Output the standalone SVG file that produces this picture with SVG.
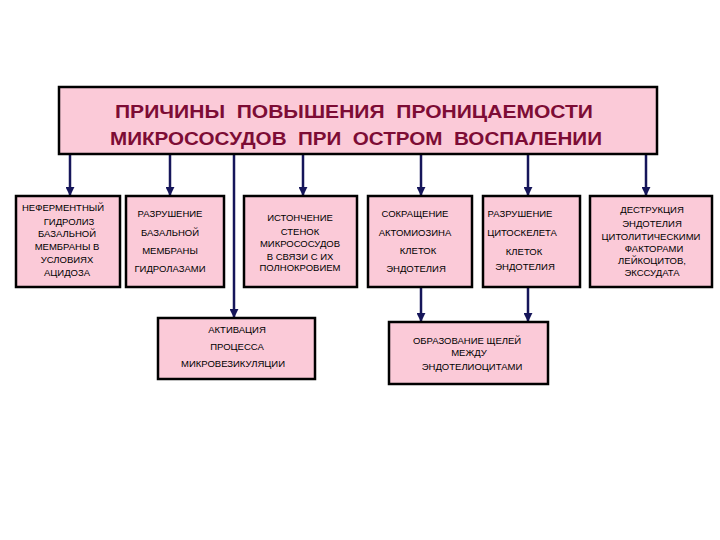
<svg xmlns="http://www.w3.org/2000/svg" width="720" height="540" viewBox="0 0 720 540">
<defs>
<style>
.box{fill:#fbcad8;stroke:#000;stroke-width:2.5}
.t{font-family:"Liberation Sans",Arial,sans-serif;font-size:9.5px;fill:#000;text-anchor:middle}
.title{font-family:"Liberation Sans",Arial,sans-serif;font-size:19px;font-weight:bold;fill:#7d0c35;text-anchor:middle;white-space:pre}
.c{stroke:#16165a;stroke-width:2.5;fill:none}
</style>
<marker id="ah" viewBox="0 0 10 10" refX="9" refY="5" markerWidth="3.6" markerHeight="3.6" orient="auto" markerUnits="strokeWidth">
<path d="M0,0 L10,5 L0,10 z" fill="#16165a"/>
</marker>
</defs>
<rect width="720" height="540" fill="#fff"/>
<g id="connectors">
<line class="c" x1="70" y1="155" x2="70" y2="195" marker-end="url(#ah)"/>
<line class="c" x1="170" y1="155" x2="170" y2="195" marker-end="url(#ah)"/>
<line class="c" x1="234" y1="155" x2="234" y2="317" marker-end="url(#ah)"/>
<line class="c" x1="303" y1="155" x2="303" y2="195" marker-end="url(#ah)"/>
<line class="c" x1="421" y1="155" x2="421" y2="195" marker-end="url(#ah)"/>
<line class="c" x1="528" y1="155" x2="528" y2="195" marker-end="url(#ah)"/>
<line class="c" x1="646" y1="155" x2="646" y2="195" marker-end="url(#ah)"/>
<line class="c" x1="421" y1="288" x2="421" y2="321" marker-end="url(#ah)"/>
<line class="c" x1="528" y1="288" x2="528" y2="321" marker-end="url(#ah)"/>
</g>
<g id="title">
<rect class="box" x="59" y="87" width="598" height="67" stroke-width="3"/>
<text class="title" x="354" y="118" textLength="478" lengthAdjust="spacingAndGlyphs">ПРИЧИНЫ  ПОВЫШЕНИЯ  ПРОНИЦАЕМОСТИ</text>
<text class="title" x="356" y="145" textLength="492" lengthAdjust="spacingAndGlyphs">МИКРОСОСУДОВ  ПРИ  ОСТРОМ  ВОСПАЛЕНИИ</text>
</g>
<g id="n1">
<rect class="box" x="16" y="196" width="104" height="91"/>
<text class="t" x="63" y="211">НЕФЕРМЕНТНЫЙ</text>
<text class="t" x="69" y="225">ГИДРОЛИЗ</text>
<text class="t" x="67" y="237">БАЗАЛЬНОЙ</text>
<text class="t" x="67" y="250">МЕМБРАНЫ В</text>
<text class="t" x="67" y="263">УСЛОВИЯХ</text>
<text class="t" x="67" y="276">АЦИДОЗА</text>
</g>
<g id="n2">
<rect class="box" x="126" y="196" width="98" height="91"/>
<text class="t" x="170" y="217">РАЗРУШЕНИЕ</text>
<text class="t" x="170" y="236">БАЗАЛЬНОЙ</text>
<text class="t" x="170" y="254">МЕМБРАНЫ</text>
<text class="t" x="170" y="272">ГИДРОЛАЗАМИ</text>
</g>
<g id="n3">
<rect class="box" x="244" y="196" width="113" height="91"/>
<text class="t" x="300" y="221">ИСТОНЧЕНИЕ</text>
<text class="t" x="300" y="235">СТЕНОК</text>
<text class="t" x="300" y="247">МИКРОСОСУДОВ</text>
<text class="t" x="300" y="260">В СВЯЗИ С ИХ</text>
<text class="t" x="300" y="271">ПОЛНОКРОВИЕМ</text>
</g>
<g id="n4">
<rect class="box" x="368" y="196" width="104" height="91"/>
<text class="t" x="415" y="217">СОКРАЩЕНИЕ</text>
<text class="t" x="415" y="236">АКТОМИОЗИНА</text>
<text class="t" x="418" y="254">КЛЕТОК</text>
<text class="t" x="416" y="272">ЭНДОТЕЛИЯ</text>
</g>
<g id="n5">
<rect class="box" x="483" y="196" width="97" height="91"/>
<text class="t" x="520" y="217">РАЗРУШЕНИЕ</text>
<text class="t" x="522" y="236">ЦИТОСКЕЛЕТА</text>
<text class="t" x="524" y="255">КЛЕТОК</text>
<text class="t" x="525" y="270">ЭНДОТЕЛИЯ</text>
</g>
<g id="n6">
<rect class="box" x="590" y="196" width="122" height="91"/>
<text class="t" x="652" y="213">ДЕСТРУКЦИЯ</text>
<text class="t" x="652" y="227">ЭНДОТЕЛИЯ</text>
<text class="t" x="651" y="240">ЦИТОЛИТИЧЕСКИМИ</text>
<text class="t" x="654" y="252">ФАКТОРАМИ</text>
<text class="t" x="652" y="264">ЛЕЙКОЦИТОВ,</text>
<text class="t" x="652" y="276">ЭКССУДАТА</text>
</g>
<g id="n7">
<rect class="box" x="158" y="318" width="157" height="61"/>
<text class="t" x="237" y="333">АКТИВАЦИЯ</text>
<text class="t" x="237" y="350">ПРОЦЕССА</text>
<text class="t" x="233" y="367">МИКРОВЕЗИКУЛЯЦИИ</text>
</g>
<g id="n8">
<rect class="box" x="389" y="322" width="159" height="62"/>
<text class="t" x="467" y="344">ОБРАЗОВАНИЕ ЩЕЛЕЙ</text>
<text class="t" x="469" y="356">МЕЖДУ</text>
<text class="t" x="472" y="370">ЭНДОТЕЛИОЦИТАМИ</text>
</g>
</svg>
